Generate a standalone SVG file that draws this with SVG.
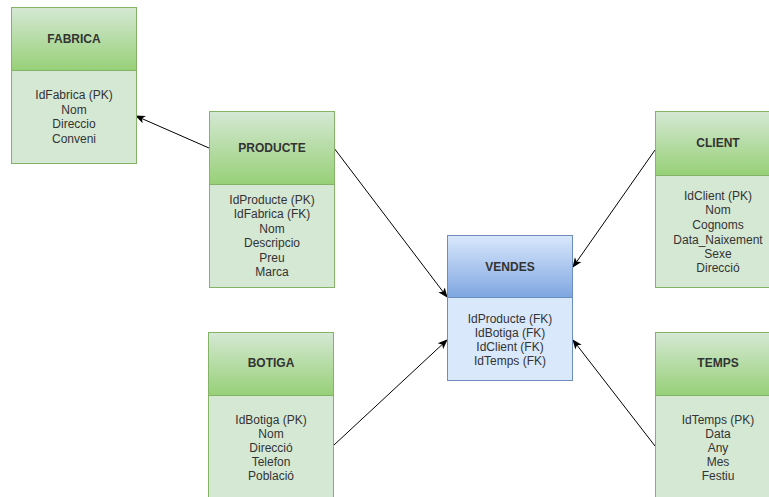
<svg xmlns="http://www.w3.org/2000/svg" width="769" height="497" viewBox="0 0 769 497">
  <defs>
    <linearGradient id="gGreen" x1="0" y1="0" x2="0" y2="1">
      <stop offset="0" stop-color="#d5e8d4"/>
      <stop offset="1" stop-color="#97d077"/>
    </linearGradient>
    <linearGradient id="gBlue" x1="0" y1="0" x2="0" y2="1">
      <stop offset="0" stop-color="#dae8fc"/>
      <stop offset="1" stop-color="#7ea6e0"/>
    </linearGradient>
    <marker id="arrow" viewBox="0 0 10 10" refX="9" refY="5" markerWidth="10" markerHeight="10" markerUnits="userSpaceOnUse" orient="auto">
      <path d="M0,1 L10,5 L0,9 L2.5,5 Z" fill="#000"/>
    </marker>
    <style>
      .hdrG { fill: url(#gGreen); stroke: #82b366; stroke-width: 1; }
      .bodyG { fill: #d5e8d4; stroke: #82b366; stroke-width: 1; }
      .hdrB { fill: url(#gBlue); stroke: #6c8ebf; stroke-width: 1; }
      .bodyB { fill: #dae8fc; stroke: #6c8ebf; stroke-width: 1; }
      .title { font-family: "Liberation Sans", Arial, sans-serif; font-size: 12px; font-weight: bold; fill: #333; text-anchor: middle; }
      .attr { font-family: "Liberation Sans", Arial, sans-serif; font-size: 12px; fill: #333; text-anchor: middle; }
      .conn { fill: none; stroke: #000; stroke-width: 1; marker-end: url(#arrow); }
    </style>
  </defs>

  <g id="connectors">
    <line class="conn" x1="209" y1="148" x2="136" y2="116"/>
    <line class="conn" x1="334" y1="148" x2="447" y2="297"/>
    <line class="conn" x1="655" y1="150" x2="573" y2="267"/>
    <line class="conn" x1="334" y1="445" x2="447" y2="340"/>
    <line class="conn" x1="655" y1="446" x2="573" y2="340"/>
  </g>

  <g id="fabrica">
    <rect class="bodyG" x="11.5" y="70.5" width="125" height="93"/>
    <rect class="hdrG" x="11.5" y="7.5" width="125" height="63"/>
    <text class="title" x="74" y="43">FABRICA</text>
    <text class="attr" x="74" y="99">IdFabrica (PK)</text>
    <text class="attr" x="74" y="114">Nom</text>
    <text class="attr" x="74" y="128">Direccio</text>
    <text class="attr" x="74" y="143">Conveni</text>
  </g>

  <g id="producte">
    <rect class="bodyG" x="209.5" y="184.5" width="125" height="103"/>
    <rect class="hdrG" x="209.5" y="111.5" width="125" height="73"/>
    <text class="title" x="272" y="152">PRODUCTE</text>
    <text class="attr" x="272" y="204">IdProducte (PK)</text>
    <text class="attr" x="272" y="218">IdFabrica (FK)</text>
    <text class="attr" x="272" y="233">Nom</text>
    <text class="attr" x="272" y="247">Descripcio</text>
    <text class="attr" x="272" y="262">Preu</text>
    <text class="attr" x="272" y="276">Marca</text>
  </g>

  <g id="vendes">
    <rect class="bodyB" x="447.5" y="297.5" width="125" height="83"/>
    <rect class="hdrB" x="447.5" y="235.5" width="125" height="62"/>
    <text class="title" x="510" y="271">VENDES</text>
    <text class="attr" x="510" y="323">IdProducte (FK)</text>
    <text class="attr" x="510" y="337">IdBotiga (FK)</text>
    <text class="attr" x="510" y="351">IdClient (FK)</text>
    <text class="attr" x="510" y="365">IdTemps (FK)</text>
  </g>

  <g id="client">
    <rect class="bodyG" x="655.5" y="175.5" width="125" height="112"/>
    <rect class="hdrG" x="655.5" y="111.5" width="125" height="64"/>
    <text class="title" x="718" y="147">CLIENT</text>
    <text class="attr" x="718" y="200">IdClient (PK)</text>
    <text class="attr" x="718" y="214">Nom</text>
    <text class="attr" x="718" y="229">Cognoms</text>
    <text class="attr" x="718" y="244">Data_Naixement</text>
    <text class="attr" x="718" y="258">Sexe</text>
    <text class="attr" x="718" y="272">Direcció</text>
  </g>

  <g id="botiga">
    <rect class="bodyG" x="208.5" y="395.5" width="125" height="110"/>
    <rect class="hdrG" x="208.5" y="332.5" width="125" height="63"/>
    <text class="title" x="271" y="367">BOTIGA</text>
    <text class="attr" x="271" y="424">IdBotiga (PK)</text>
    <text class="attr" x="271" y="438">Nom</text>
    <text class="attr" x="271" y="452">Direcció</text>
    <text class="attr" x="271" y="466">Telefon</text>
    <text class="attr" x="271" y="480">Població</text>
  </g>

  <g id="temps">
    <rect class="bodyG" x="655.5" y="395.5" width="125" height="110"/>
    <rect class="hdrG" x="655.5" y="332.5" width="125" height="63"/>
    <text class="title" x="718" y="367">TEMPS</text>
    <text class="attr" x="718" y="424">IdTemps (PK)</text>
    <text class="attr" x="718" y="438">Data</text>
    <text class="attr" x="718" y="452">Any</text>
    <text class="attr" x="718" y="466">Mes</text>
    <text class="attr" x="718" y="480">Festiu</text>
  </g>
</svg>
